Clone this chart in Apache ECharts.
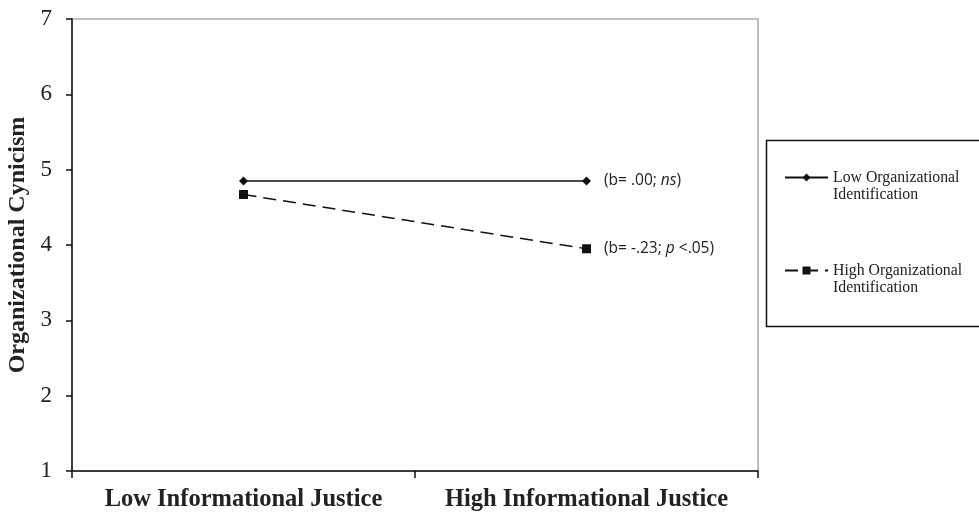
<!DOCTYPE html>
<html>
<head>
<meta charset="utf-8">
<script src="https://cdn.jsdelivr.net/npm/echarts@6/dist/echarts.min.js"></script>
<style>html,body{margin:0;padding:0;background:#fff}#c{width:979px;height:515px}</style>
</head>
<body>
<div id="c"></div>
<script>
const categories = ['Low Informational Justice', 'High Informational Justice'];
const lowOrgId = [4.85, 4.85];
const highOrgId = [4.67, 3.95];
const seriesNames = ['Low Organizational Identification', 'High Organizational Identification'];
const annotations = ['(b= .00; {i|ns})', '(b= -.23; {i|p} <.05)'];
const yTicks = { min: 1, max: 7, interval: 1 };

const chart = echarts.init(document.getElementById('c'));
const annLabel = (txt) => ({
  show: true, position: 'right', distance: 13,
  formatter: txt, color: '#222', fontFamily: 'Open Sans, Liberation Sans, sans-serif', fontSize: 15.5,
  rich: { i: { fontStyle: 'italic', fontFamily: 'Open Sans, Liberation Sans, sans-serif', fontSize: 15.5, color: '#222' } }
});
chart.setOption({
  animation: false,
  backgroundColor: '#fff',
  grid: { left: 72, right: 221, top: 19, bottom: 44, show: true, borderColor: '#aaa', borderWidth: 1.5, outerBoundsMode: 'none', containLabel: false },
  xAxis: {
    type: 'category', data: categories, boundaryGap: true,
    axisLine: { lineStyle: { color: '#111', width: 1.5 } },
    axisTick: { show: true, interval: 0, length: 7, lineStyle: { color: '#111', width: 1.5 } },
    axisLabel: { interval: 0, hideOverlap: false, margin: 16, color: '#222', fontFamily: 'Liberation Serif, Times New Roman, serif', fontWeight: 'bold', fontSize: 24.5 }
  },
  yAxis: {
    type: 'value', min: yTicks.min, max: yTicks.max, interval: yTicks.interval,
    name: 'Organizational Cynicism', nameLocation: 'middle', nameGap: 39, nameRotate: 90,
    nameTextStyle: { color: '#222', fontFamily: 'Liberation Serif, Times New Roman, serif', fontWeight: 'bold', fontSize: 24 },
    splitLine: { show: false },
    axisLine: { show: true, lineStyle: { color: '#111', width: 1.5 } },
    axisTick: { show: true, length: 6, lineStyle: { color: '#111', width: 1.5 } },
    axisLabel: { margin: 20, color: '#222', fontFamily: 'Liberation Serif, Times New Roman, serif', fontSize: 23 }
  },
  legend: {
    orient: 'vertical', left: 784, top: 152, padding: 0, itemGap: 42, itemWidth: 43, itemHeight: 10,
    textStyle: { color: '#222', fontFamily: 'Liberation Serif, Times New Roman, serif', fontSize: 15.8, lineHeight: 17 },
    formatter: (n) => '\n' + n.replace(' Identification', '\nIdentification'),
    data: seriesNames
  },
  graphic: [{
    type: 'rect', left: 764, top: 138, shape: { width: 240, height: 186 },
    style: { fill: 'none', stroke: '#111', lineWidth: 1.5 }, z: -1
  }],
  series: [
    {
      name: seriesNames[0], type: 'line', data: lowOrgId.map((v, i) => i === lowOrgId.length - 1 ? { value: v, label: annLabel(annotations[0]) } : v),
      symbol: 'diamond', symbolSize: 9, color: '#111',
      lineStyle: { color: '#111', width: 1.5, type: 'solid' },
      itemStyle: { color: '#111' }
    },
    {
      name: seriesNames[1], type: 'line', data: highOrgId.map((v, i) => i === highOrgId.length - 1 ? { value: v, label: annLabel(annotations[1]) } : v),
      symbol: 'rect', symbolSize: 9, color: '#111',
      lineStyle: { color: '#111', width: 1.5, type: [13, 7] },
      itemStyle: { color: '#111' }
    }
  ]
});
</script>
</body>
</html>
